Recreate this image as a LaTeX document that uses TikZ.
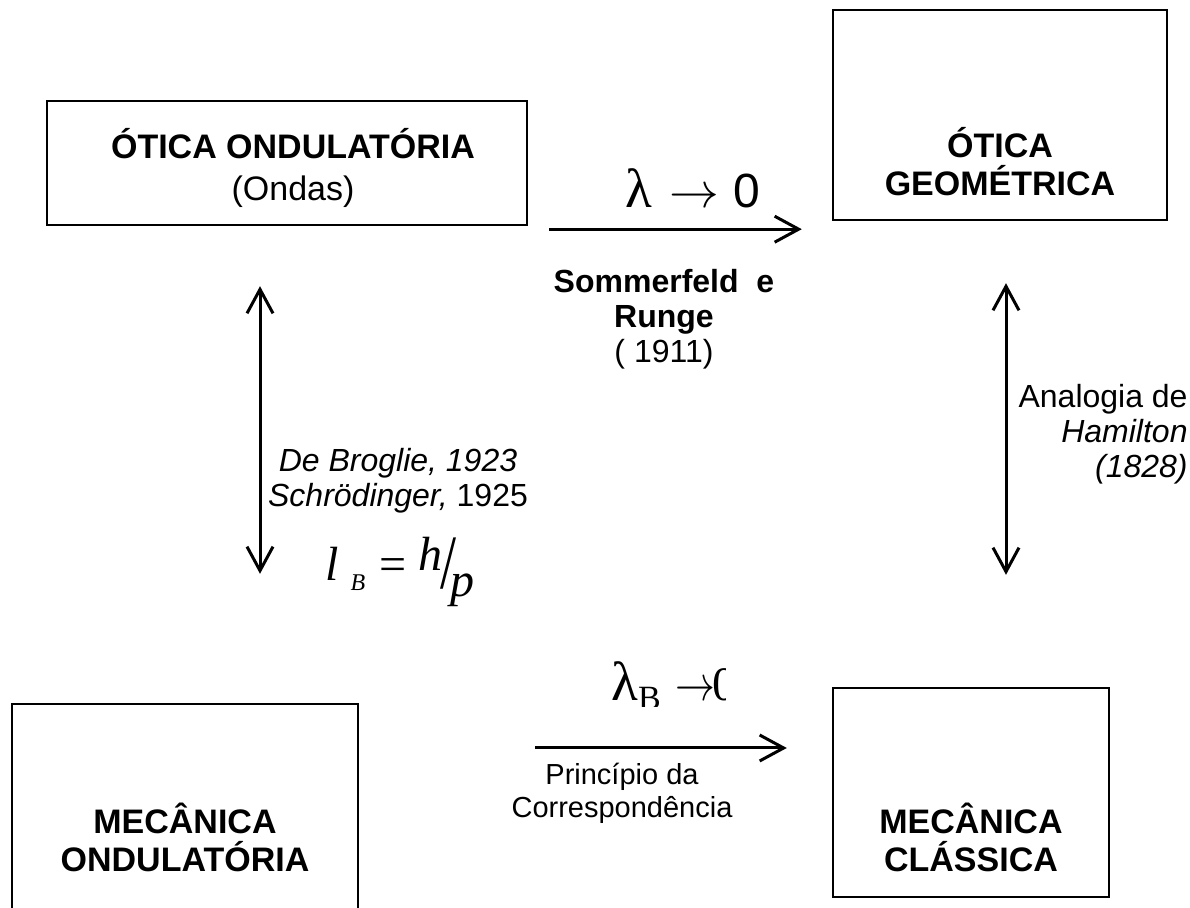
\documentclass[tikz,border=0pt]{standalone}
\usepackage{fontspec}
\setmainfont{Liberation Sans}
\newfontfamily\serifo{Liberation Serif}
\usetikzlibrary{arrows.meta,calc,positioning}

\begin{document}
\begin{tikzpicture}[x=0.5pt,y=-0.5pt,
    quadro/.style={draw, line width=1.2pt, inner sep=0pt},
    titulo/.style={align=center, font=\fontsize{17}{19}\selectfont\bfseries},
    legenda/.style={align=center, font=\fontsize{16}{17.5}\selectfont},
    limite/.style={font=\fontsize{24}{26}\selectfont},
    seta/.style={line width=1.5pt, -{Straight Barb[length=12pt,width=13pt]}},
    dupla/.style={line width=1.5pt, {Straight Barb[length=12pt,width=13pt]}-{Straight Barb[length=12pt,width=13pt]}}]
  \clip (0,0) rectangle (1190,908);

  % caixas
  \node[quadro, minimum width=240pt, minimum height=62pt] (oond) at (287,163) {};
  \node[quadro, minimum width=167pt, minimum height=105pt] (ogeo) at (1000,115) {};
  \node[quadro, minimum width=173pt, minimum height=136pt] (mond) at (185,840) {};
  \node[quadro, minimum width=138pt, minimum height=104.5pt] (mcla) at (971,792.5) {};

  \node[titulo] (oond-t) at (293,168) {ÓTICA ONDULATÓRIA\\[2pt]{\mdseries (Ondas)}};
  \node[titulo] (ogeo-t) at (1000,162) {ÓTICA\\GEOMÉTRICA};
  \node[titulo] (mond-t) at (185,837) {MECÂNICA\\ONDULATÓRIA};
  \node[titulo] (mcla-t) at (971,837) {MECÂNICA\\CLÁSSICA};

  % setas
  \draw[seta] ($(oond.south east)+(21,3)$) -- ($(ogeo.west |- oond.south east)+(-30,3)$);
  \draw[seta] ($(mond.east)+(176,-92)$) -- ($(mcla.west |- mond.east)+(-45,-92)$);
  \draw[dupla] ($(oond.south)+(-27,60)$) -- ($(mond.north)+(75,-129)$);
  \draw[dupla] ($(ogeo.south)+(6,62)$) -- ($(mcla.north)+(35,-112)$);

  % textos
  \node[limite] (lam) at (693,188) {\scalebox{1.15}{\serifo λ}\kern0.35em$\rightarrow$\kern0.3em0};
  \node[legenda] (somm) at (664,319) {\textbf{Sommerfeld\ \ e}\\\textbf{Runge}\\( 1911)};
  \node[legenda, align=right, anchor=east, inner xsep=0pt] (ham) at (1188,434) {Analogia de\\\textit{Hamilton}\\\textit{(1828)}};
  \node[legenda] (brog) at (398,481) {\textit{De Broglie, 1923}\\\textit{Schrödinger,} 1925};
  \node[limite] (lbf) at (400,572) {\serifo\itshape l\kern0.25em\raisebox{-0.45ex}{\fontsize{12}{12}\selectfont B}\kern0.3em\upshape=\kern0.25em\raisebox{0.45ex}{\itshape h}\kern-0.05em\raisebox{-0.35ex}{\scalebox{1.2}[1.6]{/}}\kern-0.12em\raisebox{-0.7ex}{\itshape p}};
  \node[legenda, font=\fontsize{14.5}{16.5}\selectfont] (corr) at (622,793) {Princípio da\\Correspondência};
  \begin{scope}
    \clip (560,640) rectangle (725,707);
    \node[limite, anchor=base west, inner sep=0pt] (lamb) at (611,701) {\scalebox{1.15}{\serifo λ}\raisebox{-0.35ex}{\serifo\fontsize{17}{17}\selectfont B}\kern0.3em\scalebox{0.8}[1]{$\rightarrow$}\kern-0.05em{\serifo 0}};
  \end{scope}
\end{tikzpicture}
\end{document}
